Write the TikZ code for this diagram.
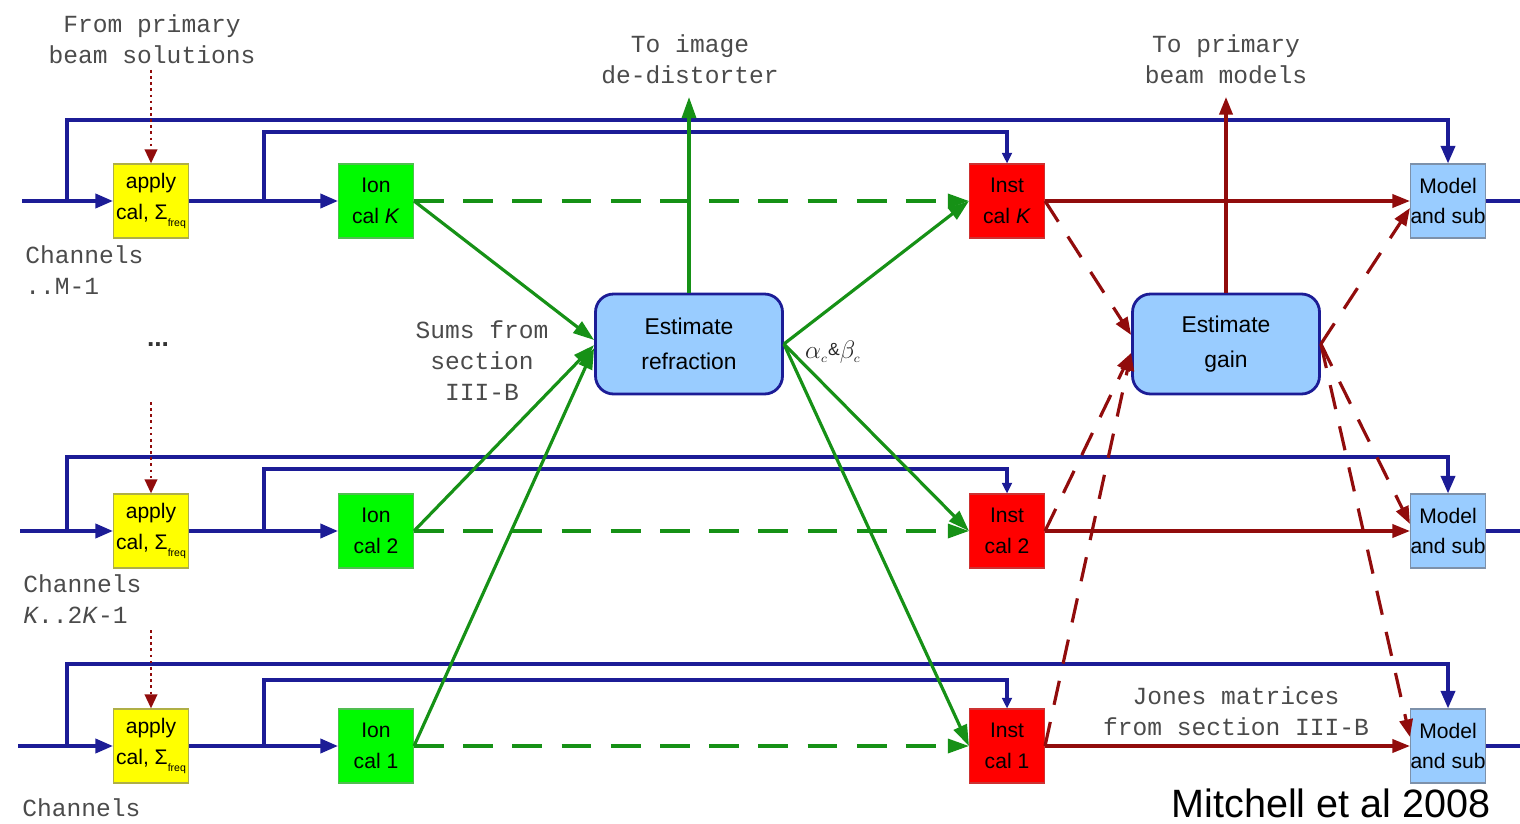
\documentclass[tikz,border=0pt]{standalone}
\usepackage{fontspec}
\setmainfont{Liberation Sans}
\setmonofont{Liberation Mono}
\usetikzlibrary{arrows.meta,calc}
\definecolor{bblue}{RGB}{28,28,150}
\definecolor{ggreen}{RGB}{22,145,22}
\definecolor{dred}{RGB}{145,12,12}
\definecolor{yfill}{RGB}{255,255,0}
\definecolor{ydraw}{RGB}{175,175,70}
\definecolor{gfill}{RGB}{0,250,0}
\definecolor{gdraw}{RGB}{80,190,80}
\definecolor{rfill}{RGB}{255,0,0}
\definecolor{rdraw}{RGB}{205,50,50}
\definecolor{lbfill}{RGB}{153,204,255}
\definecolor{lbdraw}{RGB}{125,145,170}
\definecolor{txtgrey}{RGB}{75,75,75}
\tikzset{
  sq/.style={minimum width=1.5cm,minimum height=1.48cm,inner sep=0pt,align=center,
     font=\fontsize{12}{17.5}\selectfont,line width=0.6pt},
  applybox/.style={sq,fill=yfill,draw=ydraw},
  ionbox/.style={sq,fill=gfill,draw=gdraw},
  instbox/.style={sq,fill=rfill,draw=rdraw},
  modbox/.style={sq,fill=lbfill,draw=lbdraw},
  estbox/.style={rounded corners=0.36cm,minimum width=3.74cm,minimum height=2cm,
     fill=lbfill,draw=bblue,line width=1.6pt,align=center,inner sep=0pt,
     font=\fontsize{13}{20}\selectfont},
  lbl/.style={font=\ttfamily\fontsize{14}{17.6}\selectfont,text=txtgrey,align=center,inner sep=0pt},
  bl/.style={draw=bblue,line width=2pt},
  blarr/.style={bl,-{Triangle[length=10pt,width=8pt]}},
  blsmall/.style={draw=bblue,line width=1.8pt,-{Triangle[length=6pt,width=5.5pt]}},
  gr/.style={draw=ggreen,line width=1.8pt,-{Triangle[length=12pt,width=8pt]}},
  grdash/.style={gr,dash pattern=on 17pt off 11pt},
  rd/.style={draw=dred,line width=1.8pt,-{Triangle[length=10pt,width=7.5pt]}},
  rddash/.style={rd,dash pattern=on 14pt off 10pt},
  rddot/.style={draw=dred,line width=1.5pt,dotted,-{Triangle[length=8pt,width=7pt]}},
}
\begin{document}
\begin{tikzpicture}[x=0.02cm,y=-0.02cm]
\useasboundingbox (0,0) rectangle (1520,824);
% boxes
\node[applybox] (apK) at (151,201) {apply\\cal, Σ\raisebox{-0.7ex}{\fontsize{6}{6}\selectfont freq}};
\node[applybox] (ap2) at (151,531) {apply\\cal, Σ\raisebox{-0.7ex}{\fontsize{6}{6}\selectfont freq}};
\node[applybox] (ap1) at (151,746) {apply\\cal, Σ\raisebox{-0.7ex}{\fontsize{6}{6}\selectfont freq}};
\node[ionbox] (ionK) at (376,201) {Ion\\cal \textit{K}};
\node[ionbox] (ion2) at (376,531) {Ion\\cal 2};
\node[ionbox] (ion1) at (376,746) {Ion\\cal 1};
\node[instbox] (instK) at (1007,201) {Inst\\cal \textit{K}};
\node[instbox] (inst2) at (1007,531) {Inst\\cal 2};
\node[instbox] (inst1) at (1007,746) {Inst\\cal 1};
\node[modbox] (modK) at (1448,201) {Model\\and sub};
\node[modbox] (mod2) at (1448,531) {Model\\and sub};
\node[modbox] (mod1) at (1448,746) {Model\\and sub};
\node[estbox] (refr) at (689,344) {Estimate\\refraction};
\node[estbox] (gain) at (1226,344) {Estimate\\gain};
% coordinates
\coordinate (inK) at (22,201);
\coordinate (in2) at (20,531);
\coordinate (in1) at (18,746);
\coordinate (outK) at (1520,201);
\coordinate (out2) at (1520,531);
\coordinate (out1) at (1520,746);
\coordinate (jK1) at (67,201);
\coordinate (jK2) at (264,201);
\coordinate (j21) at (67,531);
\coordinate (j22) at (264,531);
\coordinate (j11) at (67,746);
\coordinate (j12) at (264,746);
\coordinate (srcK) at (151,70);
\coordinate (src2) at (151,402);
\coordinate (src1) at (151,630);
\coordinate (toImg) at (689,97);
\coordinate (toBeam) at (1226,97);
% labels
\node[lbl] (fromL) at (152,39) {From primary\\beam solutions};
\node[lbl] (imgL) at (690,59) {To image\\de-distorter};
\node[lbl] (beamL) at (1226,59) {To primary\\beam models};
\node[lbl,anchor=west,align=left] (chK) at (25,270) {Channels\\..M-1};
\node[lbl,anchor=west,align=left] (ch2) at (23,599) {Channels\\\textit{K}..2\textit{K}-1};
\node[lbl,anchor=west,align=left] (ch1) at (22,808) {Channels};
\node[lbl] (sumsL) at (482,361) {Sums from\\section\\III-B};
\node[lbl] (jonesL) at (1236,711) {Jones matrices\\from section III-B};
\node[font=\fontsize{15}{15}\selectfont\bfseries,text=black!80,inner sep=0pt] (dots) at (158,345) {...};
\node[inner sep=0pt,text=black!85,font=\fontsize{15}{15}\selectfont] (ab) at (833,352) {$\alpha_{\scriptscriptstyle c}$\raisebox{0.2ex}{\fontsize{10}{10}\selectfont\&}$\beta_{\scriptscriptstyle c}$};
\node[font=\fontsize{22.5}{22.5}\selectfont,inner sep=0pt,anchor=base] (cite) at (1331,817) {Mitchell et al 2008};
% blue input lines
\foreach \r in {K,2,1}{
  \draw[blarr] (in\r) -- (ap\r);
  \draw[blarr] (ap\r) -- (ion\r);
  \draw[bl] (mod\r) -- (out\r);
}
\draw[blarr] (jK1) -- ++(0,-81) -| (modK.north);
\draw[blsmall] (jK2) -- ++(0,-69) -| (instK.north);
\draw[blarr] (j21) -- ++(0,-74) -| (mod2.north);
\draw[blsmall] (j22) -- ++(0,-62) -| (inst2.north);
\draw[blarr] (j11) -- ++(0,-82) -| (mod1.north);
\draw[blsmall] (j12) -- ++(0,-66) -| (inst1.north);
% dotted inputs
\draw[rddot] (srcK) -- (apK);
\draw[rddot] (src2) -- (ap2);
\draw[rddot] (src1) -- (ap1);
% green
\draw[gr] (ionK.east) -- ($(refr.west)+(0,-4)$);
\draw[gr] (ion2.east) -- ($(refr.west)+(0,1)$);
\draw[gr] (ion1.east) -- ($(refr.west)+(0,4)$);
\draw[grdash] (ionK.east) -- (instK.west);
\draw[grdash] (ion2.east) -- (inst2.west);
\draw[grdash] (ion1.east) -- (inst1.west);
\draw[gr] (refr.east) -- (instK.west);
\draw[gr] (refr.east) -- (inst2.west);
\draw[gr] (refr.east) -- (inst1.west);
\draw[gr] (refr.north) -- (toImg);
% red
\draw[rd] (instK.east) -- (modK.west);
\draw[rd] (inst2.east) -- (mod2.west);
\draw[rd] (inst1.east) -- (mod1.west);
\draw[rd] (gain.north) -- (toBeam);
\draw[rddash] (instK.east) -- ($(gain.west)+(0,-9)$);
\draw[rddash] (inst2.east) -- ($(gain.west)+(0,9)$);
\draw[rddash] (inst1.east) -- ($(gain.west)+(0,9)$);
\draw[rddash] (gain.east) -- ($(modK.west)+(0,7)$);
\draw[rddash] (gain.east) -- ($(mod2.west)+(0,-7)$);
\draw[rddash] (gain.east) -- ($(mod1.west)+(0,-9)$);
\end{tikzpicture}
\end{document}
